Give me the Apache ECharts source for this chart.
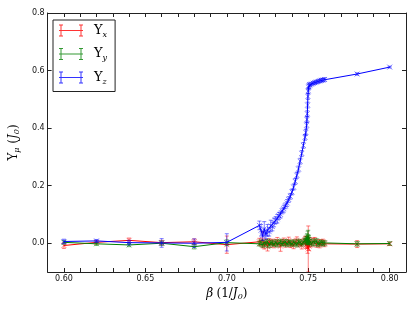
<!DOCTYPE html>
<html><head><meta charset="utf-8">
<script src="https://cdn.jsdelivr.net/npm/echarts@6/dist/echarts.min.js"></script>
<style>html,body{margin:0;padding:0;background:#fff}#c{width:415px;height:312px}</style>
</head><body><div id="c"></div>
<script>
const beta = [0.60,0.62,0.64,0.66,0.68,0.70,
  0.720,0.721,0.722,0.723,0.724,0.725,0.726,0.727,0.728,0.729,
  0.730,0.731,0.732,0.733,0.734,0.735,0.736,0.737,0.738,0.739,
  0.740,0.741,0.742,0.743,0.744,0.745,0.746,0.747,0.748,
  0.7485,0.749,0.7492,0.7494,0.7496,0.7498,0.750,0.7502,0.7505,
  0.751,0.752,0.753,0.754,0.755,0.756,0.757,0.758,0.759,0.760,
  0.78,0.80];
const upsX = [-0.008,0.003,0.010,0.002,0.005,-0.005,
  0.005,0.000,0.012,-0.008,0.003,-0.012,0.006,-0.002,0.004,-0.006,
  0.002,0.008,-0.003,-0.010,0.003,0.006,-0.004,0.002,0.009,-0.005,
  0.001,-0.007,0.004,0.010,-0.002,0.003,-0.008,0.005,0.012,
  -0.006,0.008,-0.004,0.010,-0.015,0.006,-0.020,0.004,-0.010,
  0.007,-0.003,0.006,0.010,-0.004,0.003,-0.006,0.002,0.004,-0.002,
  -0.003,-0.002];
const errX = [0.010,0.006,0.008,0.008,0.010,0.030,
  0.012,0.010,0.028,0.012,0.010,0.015,0.010,0.012,0.010,0.010,
  0.010,0.012,0.010,0.018,0.010,0.012,0.010,0.010,0.012,0.010,
  0.010,0.012,0.010,0.012,0.010,0.010,0.012,0.010,0.012,
  0.012,0.015,0.012,0.015,0.020,0.015,0.080,0.015,0.015,
  0.012,0.010,0.012,0.010,0.010,0.010,0.010,0.010,0.010,0.010,
  0.012,0.006];
const upsY = [0.003,-0.002,-0.006,0.000,-0.012,0.002,
  -0.002,0.004,-0.006,0.002,-0.004,0.006,-0.008,0.003,0.000,-0.003,
  0.004,-0.005,0.002,0.006,-0.002,0.000,0.005,-0.004,0.003,0.001,
  -0.003,0.004,0.000,-0.005,0.006,0.002,-0.002,0.004,0.008,
  0.012,0.006,0.018,0.010,0.022,0.015,0.020,0.012,0.008,
  0.004,-0.002,0.006,0.000,0.008,-0.004,0.002,0.003,-0.002,0.001,
  -0.002,-0.001];
const errY = [0.006,0.006,0.006,0.008,0.008,0.010,
  0.008,0.008,0.008,0.008,0.008,0.008,0.008,0.008,0.008,0.008,
  0.008,0.008,0.008,0.008,0.008,0.008,0.008,0.008,0.008,0.008,
  0.008,0.008,0.008,0.008,0.008,0.008,0.008,0.008,0.008,
  0.010,0.012,0.015,0.012,0.020,0.015,0.025,0.015,0.012,
  0.008,0.008,0.008,0.008,0.008,0.008,0.008,0.008,0.008,0.008,
  0.008,0.006];
const upsZ = [0.006,0.008,0.002,0.001,0.000,0.003,
  0.062,0.045,0.025,0.050,0.030,0.045,0.040,0.060,0.058,0.072,
  0.080,0.085,0.095,0.100,0.112,0.120,0.130,0.140,0.152,0.163,
  0.178,0.195,0.215,0.236,0.258,0.285,0.312,0.340,0.368,
  0.385,0.410,0.430,0.450,0.480,0.510,0.530,0.542,0.547,
  0.550,0.553,0.556,0.558,0.560,0.562,0.564,0.566,0.567,0.569,
  0.588,0.612];
const errZ = [0.008,0.005,0.008,0.015,0.015,0.030,
  0.015,0.020,0.015,0.025,0.015,0.020,0.015,0.020,0.015,0.015,
  0.012,0.015,0.012,0.012,0.010,0.012,0.010,0.012,0.010,0.010,
  0.010,0.010,0.010,0.010,0.010,0.010,0.010,0.010,0.010,
  0.010,0.010,0.010,0.010,0.010,0.010,0.010,0.010,0.010,
  0.006,0.006,0.006,0.006,0.006,0.006,0.006,0.006,0.006,0.006,
  0.004,0.003];
const xTickValues = [0.60,0.61,0.62,0.63,0.64,0.65,0.66,0.67,0.68,0.69,0.70,0.71,0.72,0.73,0.74,0.75,0.76,0.77,0.78,0.79,0.80];
const xLabelValues = [0.60,0.65,0.70,0.75,0.80];
const yTickValues = [0.0,0.2,0.4,0.6,0.8];
const seriesNames = ['Υx','Υy','Υz'];
const seriesSubs = ['x','y','z'];
const seriesColors = ['#ff0000','#008000','#0000ff'];
const seriesVals = [upsX, upsY, upsZ];
const seriesErrs = [errX, errY, errZ];

const xMark = 'path://M0,0L10,10M10,0L0,10';
const legendIcon = 'path://M0,5.5H24V6.5H0Z M1.5,0H2.5V12H1.5Z M21.5,0H22.5V12H21.5Z M0,0H4V1H0Z M0,11H4V12H0Z M20,0H24V1H20Z M20,11H24V12H20Z';

const series = [];
seriesNames.forEach((name, k) => {
  const c = seriesColors[k];
  const vals = seriesVals[k], errs = seriesErrs[k];
  series.push({
    name: name, type: 'custom', clip: true, z: 2 + k*2,
    data: beta.map((b, i) => [b, vals[i], errs[i]]),
    encode: {x: 0, y: 1},
    renderItem: function (params, api) {
      const x = api.value(0), y = api.value(1), e = api.value(2);
      const p1 = api.coord([x, y + e]), p2 = api.coord([x, y - e]);
      const w = 2;
      const st = {stroke: c, lineWidth: 1, opacity: 0.5};
      return {type: 'group', children: [
        {type: 'line', shape: {x1: p1[0], y1: p1[1], x2: p2[0], y2: p2[1]}, style: st},
        {type: 'line', shape: {x1: p1[0]-w, y1: p1[1], x2: p1[0]+w, y2: p1[1]}, style: st},
        {type: 'line', shape: {x1: p2[0]-w, y1: p2[1], x2: p2[0]+w, y2: p2[1]}, style: st}
      ]};
    }
  });
  series.push({
    name: name, type: 'line', z: 3 + k*2,
    data: beta.map((b, i) => [b, vals[i]]),
    showSymbol: true, showAllSymbol: true,
    symbol: xMark, symbolSize: 5,
    itemStyle: {color: c, borderColor: c, borderWidth: 0.8, opacity: 0.6},
    lineStyle: {color: c, width: 1},
    emphasis: {disabled: true}
  });
});

const axisLineStyle = {color: '#222', width: 1};
const chart = echarts.init(document.getElementById('c'), null, {renderer: 'canvas'});
chart.setOption({
  animation: false,
  backgroundColor: '#fff',
  grid: {left: 46, right: 9, top: 13, bottom: 40},
  legend: {
    orient: 'vertical', left: 53, top: 20,
    data: seriesNames.map((n, k) => ({name: n, icon: legendIcon, itemStyle: {color: seriesColors[k], opacity: 0.8}})),
    itemWidth: 24, itemHeight: 12, itemGap: 9,
    padding: [4, 8, 6, 6],
    borderColor: '#222', borderWidth: 1, borderRadius: 0,
    backgroundColor: '#fff',
    selectedMode: false,
    formatter: function (n) { return '{u|Υ}{s|' + seriesSubs[seriesNames.indexOf(n)] + '}'; },
    textStyle: {
      padding: [0, 0, 0, 6],
      rich: {
        u: {fontFamily: 'DejaVu Serif', fontSize: 13, color: '#000', lineHeight: 16},
        s: {fontFamily: 'DejaVu Serif', fontStyle: 'italic', fontSize: 8, color: '#000', lineHeight: 8, verticalAlign: 'bottom'}
      }
    }
  },
  xAxis: [{
    type: 'value', min: 0.59, max: 0.81, position: 'bottom',
    axisLine: {show: true, onZero: false, lineStyle: axisLineStyle},
    axisTick: {show: true, inside: true, length: 4, customValues: xTickValues, lineStyle: axisLineStyle},
    axisLabel: {customValues: xLabelValues, formatter: v => v.toFixed(2), fontFamily: 'DejaVu Sans', fontSize: 8, color: '#111', margin: 3},
    splitLine: {show: false},
    name: '{i|β} {a|(1/}{i|J}{s|0}{a|)}', nameLocation: 'middle', nameGap: 14,
    nameTextStyle: {rich: {
      i: {fontFamily: 'DejaVu Serif', fontStyle: 'italic', fontSize: 12, color: '#000', lineHeight: 14},
      a: {fontFamily: 'DejaVu Serif', fontSize: 12, color: '#000', lineHeight: 14},
      s: {fontFamily: 'DejaVu Serif', fontStyle: 'italic', fontSize: 8, color: '#000', lineHeight: 8, verticalAlign: 'bottom'}
    }}
  }, {
    type: 'value', min: 0.59, max: 0.81, position: 'top',
    axisLine: {show: true, onZero: false, lineStyle: axisLineStyle},
    axisTick: {show: true, inside: true, length: 4, customValues: xTickValues, lineStyle: axisLineStyle},
    axisLabel: {show: false},
    splitLine: {show: false}
  }],
  yAxis: [{
    type: 'value', min: -0.1, max: 0.8, position: 'left',
    axisLine: {show: true, onZero: false, lineStyle: axisLineStyle},
    axisTick: {show: true, inside: true, length: 4, customValues: yTickValues, lineStyle: axisLineStyle},
    axisLabel: {customValues: yTickValues, formatter: v => v.toFixed(1), fontFamily: 'DejaVu Sans', fontSize: 8, color: '#111', margin: 3},
    splitLine: {show: false},
    name: '{a|Υ}{s|μ}{a| (}{i|J}{s|0}{a|)}', nameLocation: 'middle', nameGap: 24, nameRotate: 90,
    nameTextStyle: {rich: {
      i: {fontFamily: 'DejaVu Serif', fontStyle: 'italic', fontSize: 12, color: '#000', lineHeight: 14},
      a: {fontFamily: 'DejaVu Serif', fontSize: 12, color: '#000', lineHeight: 14},
      s: {fontFamily: 'DejaVu Serif', fontStyle: 'italic', fontSize: 8, color: '#000', lineHeight: 8, verticalAlign: 'bottom'}
    }}
  }, {
    type: 'value', min: -0.1, max: 0.8, position: 'right',
    axisLine: {show: true, onZero: false, lineStyle: axisLineStyle},
    axisTick: {show: true, inside: true, length: 4, customValues: yTickValues, lineStyle: axisLineStyle},
    axisLabel: {show: false},
    splitLine: {show: false}
  }],
  series: series
});
</script></body></html>
